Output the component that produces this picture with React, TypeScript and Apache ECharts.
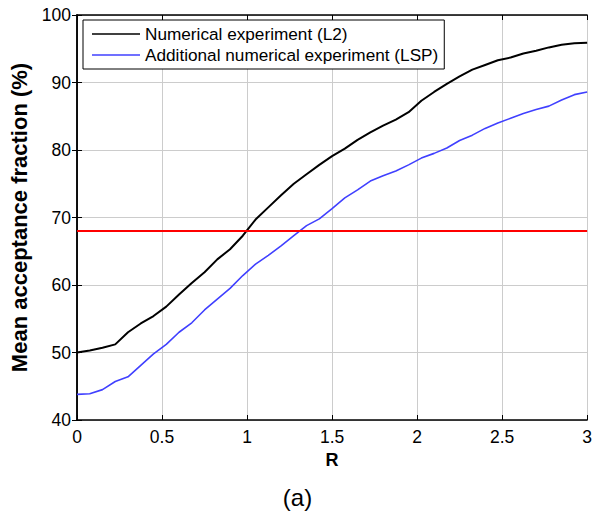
import React, { useEffect, useRef } from "react";
import * as echarts from "echarts";

const rValues = [
  0, 0.075, 0.15, 0.225, 0.3, 0.375, 0.45, 0.525, 0.6, 0.675, 0.75, 0.825, 0.9, 0.975,
  1.05, 1.125, 1.2, 1.275, 1.35, 1.425, 1.5, 1.575, 1.65, 1.725, 1.8, 1.875, 1.95, 2.025,
  2.1, 2.175, 2.25, 2.325, 2.4, 2.475, 2.55, 2.625, 2.7, 2.775, 2.85, 2.925, 3.0,
];
const l2Values = [
  50.0, 50.3, 50.7, 51.2, 53.0, 54.3, 55.4, 56.8, 58.6, 60.3, 61.9, 63.8, 65.3, 67.3,
  69.7, 71.5, 73.3, 75.0, 76.4, 77.8, 79.1, 80.2, 81.5, 82.6, 83.6, 84.5, 85.6, 87.3,
  88.6, 89.8, 90.9, 91.9, 92.6, 93.3, 93.7, 94.3, 94.7, 95.2, 95.6, 95.8, 95.9,
];
const lspValues = [
  43.8, 43.9, 44.5, 45.7, 46.4, 48.1, 49.8, 51.2, 53.0, 54.4, 56.3, 57.9, 59.5, 61.4,
  63.1, 64.4, 65.8, 67.3, 68.8, 69.8, 71.3, 72.9, 74.1, 75.4, 76.2, 76.9, 77.8, 78.8,
  79.5, 80.3, 81.4, 82.2, 83.2, 84.0, 84.7, 85.4, 86.0, 86.5, 87.4, 88.2, 88.6,
];
const thresholdValue = 68;
const seriesNames = ["Numerical experiment (L2)", "Additional numerical experiment (LSP)"];

const FONT = "'Liberation Sans', Arial, sans-serif";

export default function App() {
  const ref = useRef<HTMLDivElement>(null);
  useEffect(() => {
    document.body.style.margin = "0";
    const chart = echarts.init(ref.current!, null, { renderer: "svg" });
    const l2 = rValues.map((r, i) => [r, l2Values[i]]);
    const lsp = rValues.map((r, i) => [r, lspValues[i]]);
    const hidden = {
      show: true,
      axisLine: { show: true, lineStyle: { color: "#000", width: 1.5 } },
      axisTick: { show: true, inside: true, length: 5, lineStyle: { color: "#000" } },
      axisLabel: { show: false },
      splitLine: { show: false },
    };
    chart.setOption({
      animation: false,
      backgroundColor: "#fff",
      textStyle: { fontFamily: FONT },
      grid: { left: 75, right: 6, top: 15, bottom: 96, containLabel: false },
      legend: {
        data: seriesNames.map((n) => ({ name: n, icon: "rect" })),
        orient: "vertical",
        left: 83,
        top: 20,
        padding: [5, 6, 5, 9],
        itemWidth: 48,
        itemHeight: 1.6,
        itemGap: 3,
        borderColor: "#000",
        borderWidth: 1,
        borderRadius: 0,
        backgroundColor: "#fff",
        textStyle: { fontSize: 17.2, lineHeight: 18, color: "#000", fontFamily: FONT },
      },
      xAxis: [
        {
          type: "value",
          min: 0,
          max: 3,
          interval: 0.5,
          position: "bottom",
          name: "R",
          nameLocation: "middle",
          nameGap: 31,
          nameTextStyle: { fontSize: 18, fontWeight: "bold", color: "#000", fontFamily: FONT },
          axisLine: { show: true, lineStyle: { color: "#000", width: 1.5 } },
          axisTick: { show: true, inside: true, length: 5, lineStyle: { color: "#000" } },
          axisLabel: { fontSize: 17.5, color: "#000", margin: 8, fontFamily: FONT },
          splitLine: { show: true, lineStyle: { color: "#cccccc", width: 1 } },
        },
        { type: "value", min: 0, max: 3, interval: 0.5, position: "top", ...hidden },
      ],
      yAxis: [
        {
          type: "value",
          min: 40,
          max: 100,
          interval: 10,
          position: "left",
          name: "Mean acceptance fraction (%)",
          nameLocation: "middle",
          nameGap: 47,
          nameTextStyle: { fontSize: 22, fontWeight: "bold", color: "#000", fontFamily: FONT },
          axisLine: { show: true, lineStyle: { color: "#000", width: 1.5 } },
          axisTick: { show: true, inside: true, length: 5, lineStyle: { color: "#000" } },
          axisLabel: { fontSize: 17.5, color: "#000", margin: 6, fontFamily: FONT },
          splitLine: { show: true, lineStyle: { color: "#cccccc", width: 1 } },
        },
        { type: "value", min: 40, max: 100, interval: 10, position: "right", ...hidden },
      ],
      series: [
        {
          name: seriesNames[0],
          type: "line",
          data: l2,
          symbol: "none",
          lineStyle: { color: "#000", width: 2 },
          itemStyle: { color: "#000" },
          markLine: {
            silent: true,
            symbol: "none",
            label: { show: false },
            lineStyle: { color: "#ff0000", width: 2, type: "solid" },
            data: [{ yAxis: thresholdValue }],
          },
        },
        {
          name: seriesNames[1],
          type: "line",
          data: lsp,
          symbol: "none",
          lineStyle: { color: "#4040ff", width: 1.6 },
          itemStyle: { color: "#4040ff" },
        },
      ],
      graphic: [
        {
          type: "text",
          left: "center",
          top: 485,
          style: { text: "(a)", fontSize: 24, fill: "#000", fontFamily: FONT },
        },
      ],
    });
    return () => chart.dispose();
  }, []);
  return <div ref={ref} style={{ width: 595, height: 516 }} />;
}
